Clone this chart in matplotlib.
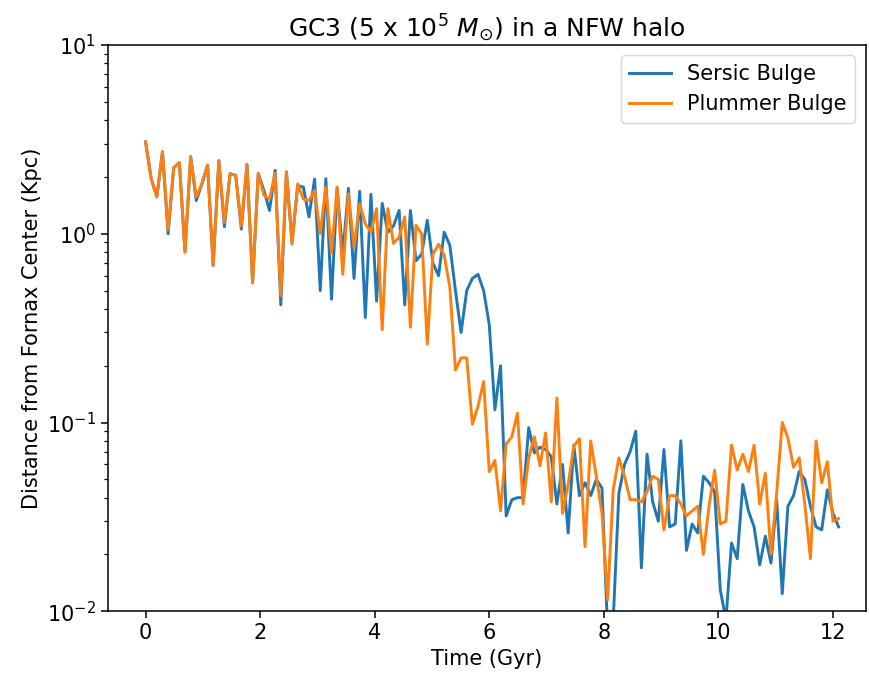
import numpy as np
import matplotlib
matplotlib.use("Agg")
import matplotlib.pyplot as plt

# Time grid (Gyr): 124 snapshots
n_snap = 124
t_end = 12.1
time = np.linspace(0.0, t_end, n_snap)

sersic = [3.07, 1.96, 1.57, 2.72, 1.00, 2.24, 2.38, 0.80, 2.56, 1.50,
          1.84, 2.31, 0.68, 2.44, 1.09, 2.08, 2.04, 1.06, 2.33, 0.55,
          2.09, 1.70, 1.33, 2.17, 0.42, 2.13, 0.90, 1.80, 1.77, 1.23,
          1.95, 0.50, 1.96, 0.45, 1.75, 0.78, 1.74, 0.58, 1.68, 0.36,
          1.62, 0.44, 1.45, 1.02, 1.10, 1.33, 0.42, 1.33, 0.72, 0.78,
          1.18, 0.70, 0.60, 1.02, 0.87, 0.50, 0.30, 0.50, 0.58, 0.61,
          0.50, 0.33, 0.117, 0.20, 0.032, 0.039, 0.040, 0.040, 0.094, 0.069,
          0.074, 0.072, 0.066, 0.037, 0.060, 0.026, 0.076, 0.041, 0.048, 0.041,
          0.050, 0.045, 0.008, 0.009, 0.042, 0.060, 0.070, 0.090, 0.017, 0.068,
          0.038, 0.030, 0.072, 0.028, 0.029, 0.080, 0.021, 0.029, 0.026, 0.052,
          0.048, 0.043, 0.013, 0.009, 0.023, 0.019, 0.047, 0.034, 0.028, 0.0176,
          0.025, 0.018, 0.039, 0.0124, 0.036, 0.041, 0.055, 0.050, 0.036, 0.028,
          0.027, 0.044, 0.033, 0.028]

plummer = [3.07, 1.96, 1.57, 2.72, 1.05, 2.24, 2.38, 0.80, 2.56, 1.57,
           1.84, 2.31, 0.68, 2.44, 1.15, 2.08, 2.04, 1.10, 2.33, 0.55,
           2.09, 1.60, 1.53, 2.09, 0.47, 2.13, 0.88, 1.84, 1.53, 1.50,
           1.70, 1.00, 1.77, 0.79, 1.77, 0.61, 1.63, 0.85, 1.44, 1.13,
           1.02, 1.36, 0.31, 1.36, 0.89, 0.96, 1.23, 0.32, 1.11, 1.00,
           0.26, 0.78, 0.88, 0.77, 0.52, 0.19, 0.22, 0.22, 0.098, 0.122,
           0.165, 0.055, 0.063, 0.034, 0.077, 0.084, 0.112, 0.037, 0.065, 0.084,
           0.059, 0.088, 0.038, 0.135, 0.033, 0.047, 0.075, 0.082, 0.022, 0.080,
           0.052, 0.033, 0.0115, 0.044, 0.065, 0.052, 0.039, 0.039, 0.038, 0.043,
           0.052, 0.050, 0.027, 0.041, 0.041, 0.037, 0.032, 0.034, 0.036, 0.020,
           0.036, 0.056, 0.029, 0.030, 0.076, 0.056, 0.068, 0.055, 0.076, 0.037,
           0.054, 0.020, 0.042, 0.100, 0.083, 0.058, 0.065, 0.037, 0.019, 0.080,
           0.048, 0.062, 0.030, 0.031]

labels = ["Sersic Bulge", "Plummer Bulge"]
x_ticks = [0, 2, 4, 6, 8, 10, 12]

fs = 15
fig = plt.figure(figsize=(8.69, 6.83), dpi=100)
ax = fig.add_axes([0.124, 0.105, 0.872, 0.829])
ax.plot(time, sersic, color="#1f77b4", lw=2.1, label=labels[0])
ax.plot(time, plummer, color="#ff7f0e", lw=2.1, label=labels[1])
ax.set_yscale("log")
ax.set_ylim(1e-2, 1e1)
ax.set_xlim(-0.66, 12.57)
ax.set_xticks(x_ticks)
ax.tick_params(labelsize=fs, length=5, width=1.1)
ax.tick_params(which="minor", length=3, width=0.9)
for s in ax.spines.values():
    s.set_linewidth(1.1)
ax.set_xlabel("Time (Gyr)", fontsize=fs)
ax.set_ylabel("Distance from Fornax Center (Kpc)", fontsize=fs)
ax.set_title(r"GC3 (5 x 10$^5$ $M_{\odot}$) in a NFW halo", fontsize=18)
ax.legend(loc="upper right", fontsize=fs, handlelength=2.0)
fig.savefig("out.png", dpi=100)
